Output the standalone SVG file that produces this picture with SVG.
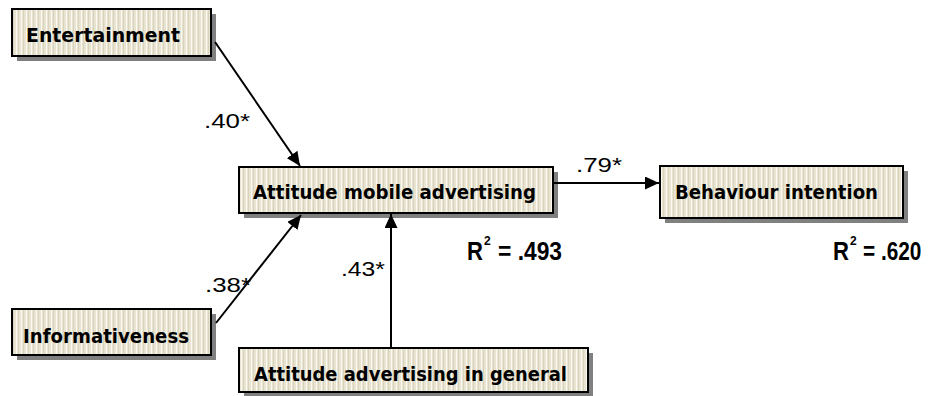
<svg xmlns="http://www.w3.org/2000/svg" width="931" height="396" viewBox="0 0 931 396">
  <defs>
    <pattern id="stripes" x="0" y="0" width="5" height="10" patternUnits="userSpaceOnUse">
      <rect width="5" height="10" fill="#e8e4d1"/>
      <rect x="1" width="1" height="10" fill="#faf9f2"/>
      <rect x="3" width="1" height="10" fill="#d8d3bc"/>
    </pattern>
    <marker id="arrow" markerUnits="userSpaceOnUse" markerWidth="15" markerHeight="13" refX="14" refY="6.5" orient="auto">
      <path d="M0,0 L14,6.5 L0,13 Z" fill="#000"/>
    </marker>
  </defs>
  <style>
    .shadow { fill: #808080; }
    .box { fill: url(#stripes); stroke: #000; stroke-width: 2; }
    .label { font-family: "DejaVu Sans", "Liberation Sans", sans-serif; font-weight: bold; font-size: 20px; fill: #000; }
    .coef { font-family: "Liberation Sans", "DejaVu Sans", sans-serif; font-size: 20px; fill: #000; }
    .r2 { font-family: "Liberation Sans", "DejaVu Sans", sans-serif; font-weight: bold; font-size: 26px; fill: #000; }
    .sup { font-family: "Liberation Sans", "DejaVu Sans", sans-serif; font-weight: bold; font-size: 12px; fill: #000; }
    .conn { stroke: #000; stroke-width: 2; fill: none; marker-end: url(#arrow); }
  </style>
  <rect width="931" height="396" fill="#fff"/>

  <g id="entertainment">
    <rect class="shadow" x="17" y="14" width="199" height="47"/>
    <rect class="box" x="12" y="9" width="199" height="47"/>
    <text class="label" x="26" y="42" textLength="154" lengthAdjust="spacingAndGlyphs">Entertainment</text>
  </g>

  <g id="attitude-mobile">
    <rect class="shadow" x="244" y="172" width="314" height="46"/>
    <rect class="box" x="239" y="167" width="314" height="46"/>
    <text class="label" x="253" y="199" textLength="283" lengthAdjust="spacingAndGlyphs">Attitude mobile advertising</text>
  </g>

  <g id="behaviour">
    <rect class="shadow" x="665" y="171" width="243" height="52"/>
    <rect class="box" x="660" y="166" width="243" height="52"/>
    <text class="label" x="675" y="199" textLength="203" lengthAdjust="spacingAndGlyphs">Behaviour intention</text>
  </g>

  <g id="informativeness">
    <rect class="shadow" x="17" y="314" width="199" height="46"/>
    <rect class="box" x="12" y="309" width="199" height="46"/>
    <text class="label" x="23" y="343" textLength="166" lengthAdjust="spacingAndGlyphs">Informativeness</text>
  </g>

  <g id="attitude-general">
    <rect class="shadow" x="244" y="353" width="349" height="44"/>
    <rect class="box" x="239" y="348" width="349" height="44"/>
    <text class="label" x="254" y="381" textLength="313" lengthAdjust="spacingAndGlyphs">Attitude advertising in general</text>
  </g>

  <g id="connectors">
    <path class="conn" d="M215,42 L300,166"/>
    <path class="conn" d="M216,323 L301,215"/>
    <path class="conn" d="M391,348 L391,214"/>
    <path class="conn" d="M553,183 L659,183"/>
    <text class="coef" x="204" y="128" textLength="46" lengthAdjust="spacingAndGlyphs">.40*</text>
    <text class="coef" x="205" y="292" textLength="46" lengthAdjust="spacingAndGlyphs">.38*</text>
    <text class="coef" x="341" y="276" textLength="44" lengthAdjust="spacingAndGlyphs">.43*</text>
    <text class="coef" x="576" y="172" textLength="46" lengthAdjust="spacingAndGlyphs">.79*</text>
  </g>

  <g id="r2-labels">
    <text class="r2" transform="translate(467,260) scale(0.85,1)">R</text>
    <text class="sup" x="484" y="245">2</text>
    <text class="r2" transform="translate(498,260) scale(0.877,1)">= .493</text>
    <text class="r2" transform="translate(833,260) scale(0.85,1)">R</text>
    <text class="sup" x="850" y="245">2</text>
    <text class="r2" transform="translate(863,260) scale(0.8,1)">= .620</text>
  </g>
</svg>
